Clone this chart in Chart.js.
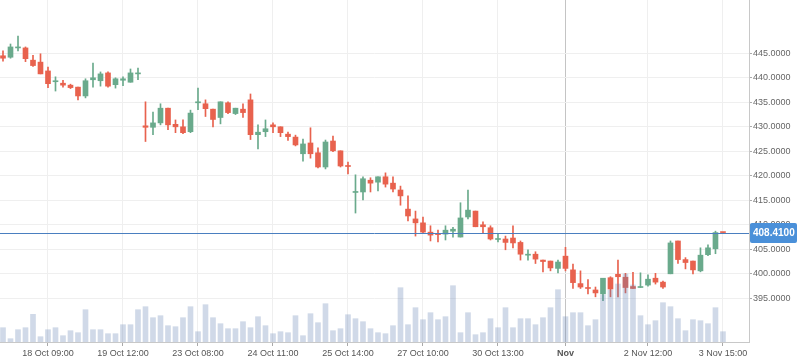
<!DOCTYPE html>
<html>
<head>
<meta charset="utf-8">
<title>Candles</title>
<script src="https://cdn.jsdelivr.net/npm/chart.js@4.4.0/dist/chart.umd.min.js"></script>
<style>
  html, body { margin: 0; padding: 0; background: #fff; }
  #wrap { width: 798px; height: 363px; }
</style>
</head>
<body>
<div id="wrap"><canvas id="chart" width="798" height="363"></canvas></div>
<script>
// OHLC, one candle per slot
const opens  = [444.5,444.2,446.1,446.1,443.6,443.2,441.4,439.2,438.9,438.5,
                438.1,436.3,439.6,439.4,441.0,438.6,439.5,439.1,440.8,430.2,
                429.9,430.8,433.8,430.5,430.0,429.0,434.9,434.7,433.6,431.9,
                434.9,432.7,433.6,435.5,428.4,429.0,430.4,430.0,428.5,427.9,
                424.5,426.7,424.7,421.8,427.1,425.1,422.1,416.6,416.7,419.1,
                418.7,419.8,418.5,417.1,413.2,411.2,410.4,408.5,408.2,408.1,
                408.7,407.5,411.6,412.8,410.0,409.4,407.0,407.1,407.3,406.4,
                403.8,404.0,402.8,402.6,401.1,403.6,400.8,398.0,397.2,396.7,
                395.9,399.2,399.9,399.3,397.4,397.2,397.7,399.1,398.3,400.0,
                406.7,402.9,402.6,400.6,403.9,405.1,408.41];
const highs  = [445.5,446.9,448.5,446.3,444.6,444.9,442.2,440.2,439.5,438.7,
                438.1,439.8,443.0,441.2,441.2,440.0,440.2,441.8,442.0,435.1,
                433.0,434.7,433.8,431.4,431.4,433.4,437.9,435.5,433.6,435.1,
                435.1,433.8,434.7,436.7,430.4,431.4,430.8,430.0,428.9,428.3,
                427.5,429.8,425.7,427.3,428.1,425.1,422.8,420.2,419.8,419.6,
                419.8,420.6,419.8,417.9,415.9,412.8,411.6,409.8,408.9,409.8,
                409.5,414.5,417.1,412.8,410.6,409.8,408.1,407.7,409.8,406.7,
                404.9,404.5,402.8,402.6,402.8,405.4,402.0,400.6,398.8,397.3,
                399.1,399.4,402.8,400.1,400.3,400.2,399.8,400.1,398.5,406.7,
                406.7,403.3,402.6,405.3,405.9,408.7,408.41];
const lows   = [443.4,444.0,445.5,443.3,442.3,440.8,438.0,437.3,438.1,437.8,
                435.5,435.9,438.1,438.3,438.1,437.9,438.4,439.1,439.6,427.0,
                428.4,430.4,429.4,428.8,428.6,428.8,433.5,432.1,430.0,430.6,
                432.7,432.5,431.9,427.4,425.5,428.0,428.8,428.0,427.2,426.1,
                423.0,423.6,421.6,421.4,424.9,421.8,420.4,412.4,415.1,416.7,
                416.9,417.7,416.7,414.0,410.8,407.7,408.3,406.7,406.5,406.9,
                407.5,407.5,411.2,409.6,408.3,406.9,406.5,404.9,405.3,402.8,
                402.8,402.1,400.4,400.6,400.2,400.6,397.0,397.0,395.9,395.3,
                394.5,395.3,395.3,396.1,397.0,397.2,397.5,397.9,397.0,400.0,
                402.1,401.0,400.0,400.4,403.7,404.1,408.41];
const closes = [444.0,446.3,446.3,443.9,442.5,440.8,438.8,439.4,438.5,438.0,
                436.3,439.4,440.0,440.8,438.3,439.8,439.8,441.0,441.0,429.9,
                430.8,433.8,430.4,430.0,428.8,432.8,435.1,433.7,431.5,435.1,
                432.9,433.8,432.9,428.4,428.9,429.6,430.0,428.8,428.0,426.3,
                426.5,424.5,421.8,426.9,425.1,422.0,421.9,416.8,419.4,418.5,
                419.8,418.3,417.3,415.9,411.8,410.4,408.5,407.9,408.0,408.9,
                409.1,411.4,413.0,409.6,409.6,407.1,407.2,406.4,406.3,404.0,
                404.0,403.0,402.5,401.2,402.4,401.1,398.2,397.3,397.0,396.1,
                399.1,396.9,399.4,397.2,397.0,397.4,398.9,398.3,397.3,406.3,
                402.9,402.3,400.8,403.8,405.3,408.41,408.41];
// volume in shares
const volumes = [14300,3300,12300,14300,27700,5300,12300,14300,6300,11300,
                 9300,32300,12300,12300,8300,8300,17300,17300,32300,35300,
                 24300,26300,16300,15300,24300,35300,10300,37300,24300,18300,
                 13300,13300,20300,14300,25300,16300,8300,10300,9300,26300,
                 6300,28300,19300,38300,11300,13300,27300,23300,20300,13300,
                 9300,8300,16300,54300,17300,34300,22300,29300,22300,25300,
                 56300,9300,29300,7300,9300,23300,14300,34300,14300,23300,
                 23300,17300,24300,34300,52300,25300,29300,29300,16300,22300,
                 47000,52000,58000,68000,57000,26300,17300,21300,39300,35300,
                 23300,11300,22300,21300,18300,34300,10300];

// axis labels
const tickIdx  = [6, 16, 26, 36, 46, 56, 66, 75, 86, 96];
const tickText = ['18 Oct 09:00', '19 Oct 12:00', '23 Oct 08:00', '24 Oct 11:00', '25 Oct 14:00',
                  '27 Oct 10:00', '30 Oct 13:00', 'Nov', '2 Nov 12:00', '3 Nov 15:00'];
const priceTicks = [395, 400, 405, 410, 415, 420, 425, 430, 435, 440, 445];
const crossIdx = 75;

const UP = '#6aaa8c';
const DOWN = '#e8624e';
const FONT = 'Liberation Sans';
const lastPrice = closes[closes.length - 1];

const candleColors = opens.map((o, i) => closes[i] > o ? UP : DOWN);

// current price line with its label box on the axis
const priceLine = {
  id: 'priceLine',
  afterDraw(chart) {
    const ctx = chart.ctx;
    const area = chart.chartArea;
    const y = Math.round(chart.scales.y.getPixelForValue(lastPrice)) + 0.5;
    ctx.save();
    ctx.strokeStyle = '#4a7fc0';
    ctx.lineWidth = 1;
    ctx.beginPath();
    ctx.moveTo(area.left, y);
    ctx.lineTo(area.right, y);
    ctx.stroke();

    ctx.fillStyle = '#4a90d9';
    ctx.beginPath();
    ctx.roundRect(area.right + 1, y - 10.5, 47, 20, 2);
    ctx.fill();
    ctx.fillStyle = '#fff';
    ctx.font = 'bold 10px "' + FONT + '"';
    ctx.textBaseline = 'middle';
    ctx.fillText(lastPrice.toFixed(4), area.right + 4, y);
    ctx.restore();
  }
};

new Chart(document.getElementById('chart'), {
  type: 'bar',
  data: {
    datasets: [
      {
        label: 'Volume',
        data: volumes.map((v, i) => ({ x: i, y: v })),
        yAxisID: 'yv',
        backgroundColor: 'rgba(100,130,180,0.3)',
        barThickness: 5,
        grouped: false,
        order: 0
      },
      {
        label: 'Body',
        data: opens.map((o, i) => ({ x: i, y: [o, closes[i]] })),
        yAxisID: 'y',
        backgroundColor: candleColors,
        barThickness: 5,
        minBarLength: 1,
        grouped: false,
        order: 1
      },
      {
        label: 'Wick',
        data: lows.map((l, i) => ({ x: i, y: [l, highs[i]] })),
        yAxisID: 'y',
        backgroundColor: candleColors,
        barThickness: 1,
        grouped: false,
        order: 2
      }
    ]
  },
  options: {
    responsive: false,
    devicePixelRatio: 1,
    animation: false,
    layout: { padding: 0 },
    plugins: {
      legend: { display: false },
      tooltip: { enabled: false }
    },
    scales: {
      x: {
        type: 'linear',
        position: 'bottom',
        offset: false,
        min: -0.4,
        max: 99.47,
        afterBuildTicks: s => { s.ticks = tickIdx.map(v => ({ value: v })); },
        afterFit: s => { s.height = 21; s.paddingLeft = 0; s.paddingRight = 0; },
        ticks: {
          autoSkip: false,
          maxRotation: 0,
          padding: 2,
          color: '#555',
          font: ctx => ({
            family: FONT,
            size: 9,
            weight: ctx.tick && ctx.tick.value === crossIdx ? 'bold' : 'normal'
          }),
          callback: v => tickText[tickIdx.indexOf(v)]
        },
        grid: {
          offset: false,
          color: ctx => ctx.tick && ctx.tick.value === crossIdx ? '#c4c4c4' : '#efefef',
          tickLength: 4,
          tickColor: '#aaa'
        },
        border: { color: '#c8c8c8' }
      },
      y: {
        type: 'linear',
        position: 'right',
        min: 386.08,
        max: 455.88,
        afterBuildTicks: s => { s.ticks = priceTicks.map(v => ({ value: v })); },
        afterFit: s => { s.width = 49; s.paddingTop = 0; s.paddingBottom = 0; },
        ticks: {
          padding: 1,
          color: '#666',
          font: { family: FONT, size: 9 },
          callback: v => v.toFixed(4)
        },
        grid: { color: '#efefef', tickLength: 3, tickColor: '#aaa' },
        border: { color: '#c8c8c8' }
      },
      yv: {
        display: false,
        min: 0,
        max: 342000
      }
    }
  },
  plugins: [priceLine]
});
</script>
</body>
</html>
